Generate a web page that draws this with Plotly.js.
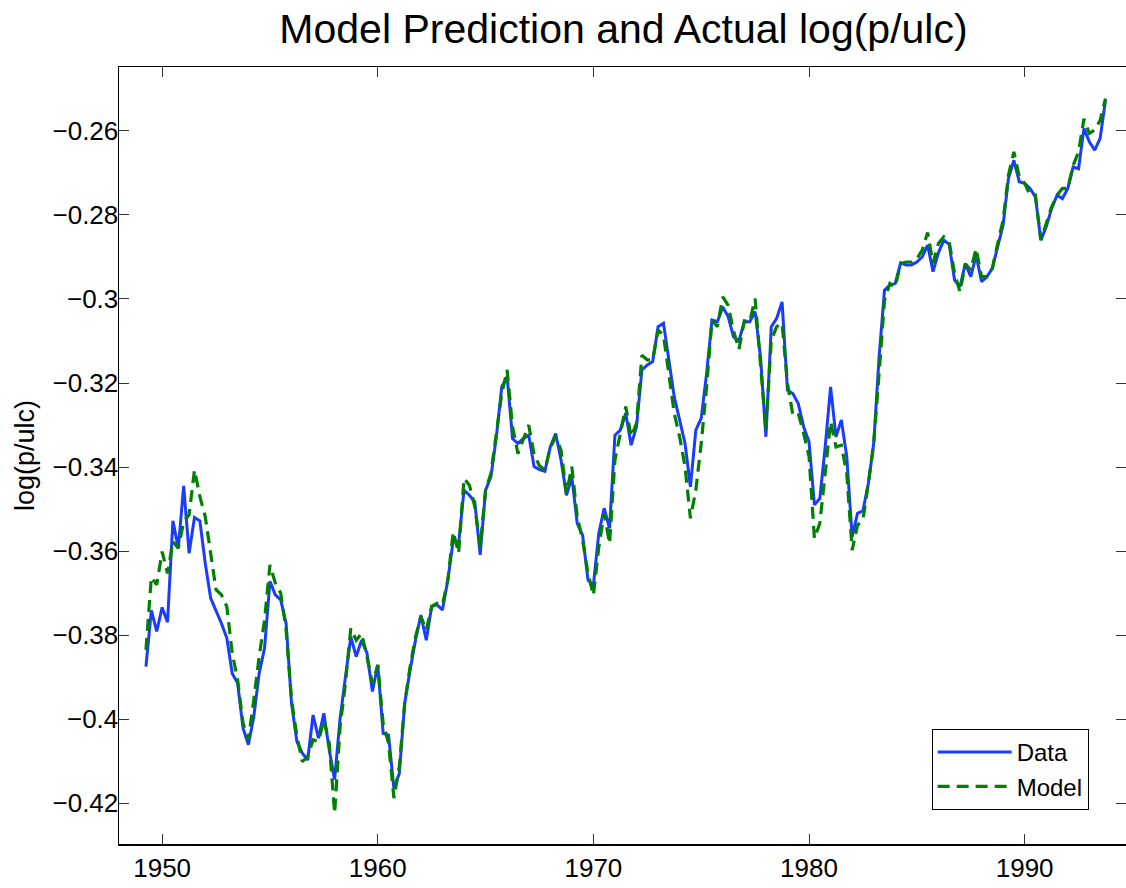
<!DOCTYPE html>
<html>
<head>
<meta charset="utf-8">
<script src="https://cdn.plot.ly/plotly-3.0.1.min.js"></script>
<style>
  html, body { margin: 0; padding: 0; background: #ffffff; }
  #chart { width: 1126px; height: 888px; }
</style>
</head>
<body>
<div id="chart"></div>
<script>
// Quarterly observations, first quarter plotted at 1949.25
const startYear = 1949.25;
const stepYears = 0.25;

// Actual log(p/ulc)
const dataSeries = [
  -0.3875, -0.3741, -0.3791, -0.3734, -0.3769, -0.3528, -0.3593, -0.3445, -0.3605, -0.3520,
  -0.3528, -0.3629, -0.3712, -0.3740, -0.3772, -0.3807, -0.3891, -0.3914, -0.4021, -0.4061,
  -0.3994, -0.3891, -0.3831, -0.3672, -0.3704, -0.3716, -0.3772, -0.3962, -0.4053, -0.4081,
  -0.4097, -0.3990, -0.4045, -0.3986, -0.4073, -0.4144, -0.4000, -0.3900, -0.3804, -0.3851,
  -0.3812, -0.3843, -0.3934, -0.3871, -0.4034, -0.4038, -0.4165, -0.4129, -0.3962, -0.3883,
  -0.3812, -0.3752, -0.3812, -0.3731, -0.3728, -0.3740, -0.3669, -0.3574, -0.3582, -0.3455,
  -0.3467, -0.3483, -0.3609, -0.3455, -0.3423, -0.3328, -0.3209, -0.3185, -0.3332, -0.3344,
  -0.3332, -0.3324, -0.3399, -0.3406, -0.3410, -0.3352, -0.3320, -0.3383, -0.3467, -0.3423,
  -0.3534, -0.3562, -0.3669, -0.3681, -0.3558, -0.3498, -0.3546, -0.3324, -0.3312, -0.3272,
  -0.3348, -0.3304, -0.3169, -0.3157, -0.3149, -0.3066, -0.3058, -0.3145, -0.3233, -0.3288,
  -0.3344, -0.3447, -0.3312, -0.3284, -0.3177, -0.3050, -0.3054, -0.3019, -0.3042, -0.3090,
  -0.3100, -0.3054, -0.3054, -0.3030, -0.3138, -0.3328, -0.3066, -0.3046, -0.3007, -0.3217,
  -0.3225, -0.3249, -0.3304, -0.3340, -0.3490, -0.3475, -0.3352, -0.3209, -0.3328, -0.3288,
  -0.3375, -0.3566, -0.3510, -0.3504, -0.3439, -0.3344, -0.3138, -0.2979, -0.2967, -0.2963,
  -0.2914, -0.2919, -0.2919, -0.2912, -0.2900, -0.2872, -0.2935, -0.2890, -0.2860, -0.2870,
  -0.2955, -0.2971, -0.2916, -0.2947, -0.2896, -0.2959, -0.2947, -0.2927, -0.2876, -0.2824,
  -0.2713, -0.2670, -0.2721, -0.2725, -0.2737, -0.2757, -0.2860, -0.2828, -0.2785, -0.2753,
  -0.2761, -0.2737, -0.2686, -0.2690, -0.2594, -0.2626, -0.2646, -0.2618, -0.2527
];

// Model prediction
const modelSeries = [
  -0.3835, -0.3662, -0.3680, -0.3601, -0.3653, -0.3577, -0.3593, -0.3530, -0.3514, -0.3407,
  -0.3470, -0.3518, -0.3605, -0.3692, -0.3704, -0.3732, -0.3843, -0.3906, -0.4009, -0.4049,
  -0.3954, -0.3851, -0.3764, -0.3633, -0.3676, -0.3700, -0.3787, -0.3954, -0.4041, -0.4101,
  -0.4089, -0.4049, -0.4053, -0.4002, -0.4057, -0.4224, -0.4020, -0.3915, -0.3784, -0.3812,
  -0.3796, -0.3851, -0.3915, -0.3871, -0.4010, -0.4057, -0.4188, -0.4113, -0.3962, -0.3875,
  -0.3804, -0.3756, -0.3788, -0.3732, -0.3724, -0.3728, -0.3669, -0.3554, -0.3605, -0.3427,
  -0.3443, -0.3494, -0.3589, -0.3455, -0.3415, -0.3320, -0.3225, -0.3169, -0.3304, -0.3368,
  -0.3332, -0.3300, -0.3370, -0.3397, -0.3407, -0.3354, -0.3328, -0.3360, -0.3463, -0.3399,
  -0.3518, -0.3574, -0.3653, -0.3705, -0.3590, -0.3510, -0.3582, -0.3383, -0.3320, -0.3256,
  -0.3328, -0.3296, -0.3134, -0.3145, -0.3145, -0.3074, -0.3086, -0.3185, -0.3272, -0.3328,
  -0.3399, -0.3522, -0.3455, -0.3344, -0.3209, -0.3050, -0.3066, -0.2995, -0.3015, -0.3076,
  -0.3120, -0.3052, -0.3054, -0.2999, -0.3153, -0.3312, -0.3098, -0.3066, -0.3058, -0.3201,
  -0.3276, -0.3272, -0.3320, -0.3375, -0.3570, -0.3534, -0.3415, -0.3292, -0.3352, -0.3348,
  -0.3415, -0.3598, -0.3538, -0.3526, -0.3439, -0.3344, -0.3177, -0.3003, -0.2963, -0.2971,
  -0.2916, -0.2912, -0.2912, -0.2904, -0.2884, -0.2842, -0.2915, -0.2868, -0.2852, -0.2864,
  -0.2939, -0.2983, -0.2916, -0.2931, -0.2880, -0.2947, -0.2947, -0.2927, -0.2868, -0.2813,
  -0.2705, -0.2650, -0.2709, -0.2725, -0.2753, -0.2753, -0.2860, -0.2820, -0.2781, -0.2753,
  -0.2737, -0.2737, -0.2682, -0.2650, -0.2571, -0.2606, -0.2598, -0.2575, -0.2523
];

const xTickVals = [1950, 1960, 1970, 1980, 1990];
const xTickText = ["1950", "1960", "1970", "1980", "1990"];
const yTickVals = [-0.42, -0.40, -0.38, -0.36, -0.34, -0.32, -0.30, -0.28, -0.26];
const yTickText = ["\u22120.42", "\u22120.4", "\u22120.38", "\u22120.36", "\u22120.34", "\u22120.32", "\u22120.3", "\u22120.28", "\u22120.26"];

const seriesNames = ["Data", "Model"];
const chartTitle = "Model Prediction and Actual log(p/ulc)";
const yTitle = "log(p/ulc)";

const years = dataSeries.map((_, i) => startYear + i * stepYears);

const FONT = "Liberation Sans, Arial, Helvetica, sans-serif";

const traces = [
  {
    x: years, y: dataSeries, name: seriesNames[0], type: "scatter", mode: "lines",
    line: { color: "#1a3cff", width: 3 }
  },
  {
    x: years, y: modelSeries, name: seriesNames[1], type: "scatter", mode: "lines",
    line: { color: "#008000", width: 3.2, dash: "12px,7px" }
  }
];

const axisCommon = {
  showgrid: false, zeroline: false,
  showline: true, linecolor: "#000", linewidth: 1.5, mirror: "ticks",
  ticks: "inside", ticklen: 10, tickwidth: 1, tickcolor: "#333",
  tickfont: { family: FONT, size: 26, color: "#000" }
};

const layout = {
  width: 1126, height: 888,
  paper_bgcolor: "#fff", plot_bgcolor: "#fff",
  margin: { l: 119, r: 0, t: 67, b: 44, pad: 0 },
  title: {
    text: chartTitle,
    font: { family: FONT, size: 41, color: "#000" },
    x: 0.501, xanchor: "center", xref: "paper",
    y: 1 - 29 / 888, yanchor: "middle", yref: "container"
  },
  xaxis: Object.assign({}, axisCommon, {
    range: [1948, 1994.7],
    tickvals: xTickVals, ticktext: xTickText
  }),
  yaxis: Object.assign({}, axisCommon, {
    range: [-0.4297, -0.2448],
    tickvals: yTickVals, ticktext: yTickText,
    ticklabelstandoff: -6,
    title: { text: yTitle, font: { family: FONT, size: 27, color: "#000" }, standoff: 10 }
  }),
  showlegend: true,
  legend: {
    x: 0.807, y: 0.148, xanchor: "left", yanchor: "top",
    bgcolor: "#fff", bordercolor: "#000", borderwidth: 1,
    font: { family: FONT, size: 24, color: "#000" },
    itemwidth: 74, tracegroupgap: 0
  }
};

Plotly.newPlot("chart", traces, layout, { displayModeBar: false, staticPlot: true });
</script>
</body>
</html>
